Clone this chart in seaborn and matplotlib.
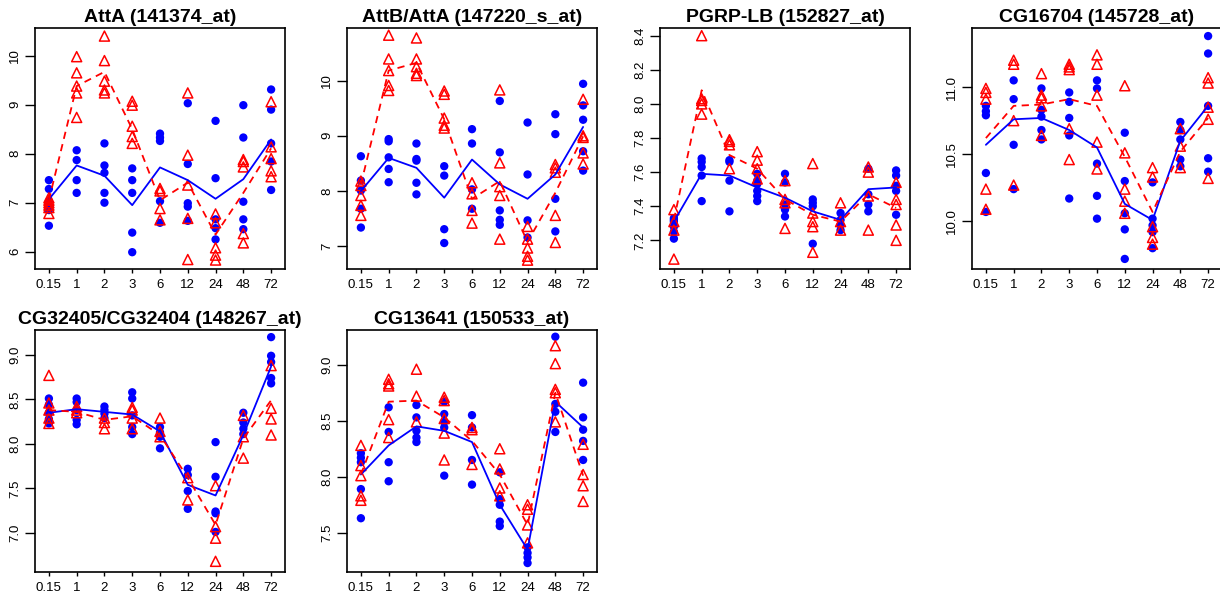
import numpy as np
import pandas as pd
import matplotlib
matplotlib.use("Agg")
import matplotlib.pyplot as plt
import seaborn as sns

# time points (hours) shown on the x axis
times = ["0.15", "1", "2", "3", "6", "12", "24", "48", "72"]

titles = ["AttA (141374_at)", "AttB/AttA (147220_s_at)", "PGRP-LB (152827_at)",
          "CG16704 (145728_at)", "CG32405/CG32404 (148267_at)", "CG13641 (150533_at)"]

# --- AttA (141374_at) ---
atta_blue = [[7.46, 7.28, 7.03, 6.92, 6.85, 6.53], [8.07, 7.87, 7.46, 7.20],
             [8.21, 7.76, 7.61, 7.20, 7.00], [7.70, 7.46, 7.20, 6.39, 5.99],
             [8.41, 8.33, 8.26, 7.03, 6.59], [9.03, 7.79, 6.99, 6.92, 6.63],
             [8.67, 7.50, 6.66, 6.48, 6.25], [8.99, 8.33, 7.02, 6.66, 6.46],
             [9.31, 8.90, 8.21, 7.84, 7.26]]
atta_red = [[7.10, 7.05, 7.00, 6.95, 6.90, 6.78], [9.98, 9.65, 9.38, 9.24, 8.74],
            [10.40, 9.90, 9.48, 9.30, 9.24], [9.07, 8.99, 8.56, 8.35, 8.21],
            [7.29, 7.24, 6.88, 6.65], [9.24, 7.97, 7.36, 6.68, 5.84],
            [6.77, 6.59, 6.08, 5.93, 5.83], [7.88, 7.84, 7.73, 6.37, 6.18],
            [9.06, 8.14, 7.90, 7.65, 7.53]]
atta_blue_mean = [7.07, 7.76, 7.55, 6.95, 7.72, 7.46, 7.08, 7.48, 8.29]
atta_red_mean = [7.05, 9.38, 9.67, 8.50, 7.05, 7.41, 6.35, 7.20, 8.11]

# --- AttB/AttA (147220_s_at) ---
attb_blue = [[8.63, 8.19, 8.01, 7.68, 7.34], [8.94, 8.90, 8.61, 8.40, 8.16],
             [8.86, 8.58, 8.55, 8.15, 7.94], [8.45, 8.28, 7.31, 7.06],
             [9.12, 8.86, 8.03, 7.68], [9.63, 8.70, 7.65, 7.48, 7.39],
             [9.24, 8.30, 7.47, 7.16], [9.39, 9.03, 7.86, 7.27],
             [9.94, 9.55, 9.29, 8.72, 8.37]]
attb_red = [[8.18, 8.10, 7.92, 7.74, 7.56], [10.82, 10.39, 10.18, 9.91, 9.82],
            [10.77, 10.39, 10.25, 10.13, 10.09], [9.81, 9.75, 9.32, 9.19, 9.14],
            [8.15, 7.95, 7.65, 7.42], [9.83, 8.51, 8.08, 7.92, 7.13],
            [7.36, 7.13, 6.97, 6.82, 6.75], [8.48, 8.42, 8.34, 7.56, 7.07],
            [9.66, 9.00, 8.97, 8.69, 8.49]]
attb_blue_mean = [8.00, 8.60, 8.42, 7.88, 8.57, 8.12, 7.86, 8.30, 9.16]
attb_red_mean = [8.12, 10.18, 10.32, 9.30, 7.86, 8.18, 7.08, 7.97, 8.99]

# --- PGRP-LB (152827_at) ---
pgrp_blue = [[7.33, 7.32, 7.31, 7.28, 7.25, 7.21], [7.68, 7.66, 7.63, 7.58, 7.43],
             [7.67, 7.66, 7.55, 7.37], [7.59, 7.55, 7.53, 7.49, 7.46, 7.43],
             [7.59, 7.54, 7.41, 7.38, 7.34], [7.44, 7.42, 7.40, 7.18],
             [7.36, 7.32, 7.29, 7.26], [7.62, 7.47, 7.41, 7.37],
             [7.61, 7.58, 7.52, 7.49, 7.35]]
pgrp_red = [[7.38, 7.31, 7.26, 7.09], [8.40, 8.03, 8.02, 8.00, 7.94],
            [7.79, 7.78, 7.76, 7.62], [7.72, 7.67, 7.62, 7.56],
            [7.55, 7.44, 7.42, 7.27], [7.65, 7.36, 7.31, 7.28, 7.13],
            [7.42, 7.31, 7.26], [7.63, 7.60, 7.46, 7.26],
            [7.54, 7.44, 7.41, 7.29, 7.20]]
pgrp_blue_mean = [7.31, 7.59, 7.58, 7.51, 7.45, 7.37, 7.32, 7.50, 7.51]
pgrp_red_mean = [7.32, 8.08, 7.70, 7.62, 7.44, 7.35, 7.31, 7.47, 7.39]

# --- CG16704 (145728_at) ---
cg167_blue = [[10.86, 10.82, 10.79, 10.36, 10.07], [11.05, 10.91, 10.57, 10.24],
              [10.99, 10.83, 10.78, 10.68, 10.61], [10.96, 10.89, 10.77, 10.64, 10.17],
              [11.05, 10.99, 10.43, 10.19, 10.02], [10.66, 10.30, 10.06, 9.94, 9.72],
              [10.29, 10.02, 9.97, 9.92, 9.80], [10.74, 10.68, 10.61, 10.46, 10.41],
              [11.38, 11.25, 10.86, 10.47, 10.37]]
cg167_red = [[10.99, 10.96, 10.91, 10.24, 10.09], [11.20, 11.17, 10.75, 10.27],
             [11.10, 10.94, 10.92, 10.86, 10.64], [11.17, 11.15, 11.13, 10.69, 10.46],
             [11.24, 11.17, 10.94, 10.59, 10.39], [11.01, 10.51, 10.24, 10.15, 10.06],
             [10.40, 10.33, 9.96, 9.88, 9.83], [10.69, 10.56, 10.40],
             [11.07, 11.03, 10.85, 10.76, 10.32]]
cg167_blue_mean = [10.57, 10.76, 10.77, 10.68, 10.55, 10.13, 10.01, 10.60, 10.86]
cg167_red_mean = [10.62, 10.86, 10.87, 10.91, 10.86, 10.48, 10.07, 10.52, 10.77]

# --- CG32405/CG32404 (148267_at) ---
cg324_blue = [[8.51, 8.44, 8.35, 8.28, 8.23], [8.51, 8.47, 8.38, 8.27, 8.22],
              [8.42, 8.38, 8.34, 8.29], [8.58, 8.51, 8.32, 8.19, 8.11],
              [8.19, 8.13, 8.08, 7.95], [7.72, 7.65, 7.47, 7.27],
              [8.02, 7.63, 7.24, 7.22, 7.01], [8.35, 8.24, 8.17, 8.11],
              [9.20, 8.99, 8.92, 8.74, 8.68]]
cg324_red = [[8.77, 8.46, 8.38, 8.29, 8.23], [8.42, 8.38, 8.35],
             [8.29, 8.24, 8.17], [8.41, 8.38, 8.29, 8.17],
             [8.29, 8.14, 8.08], [7.62, 7.37],
             [7.53, 7.07, 6.94, 6.68], [8.32, 8.08, 7.84],
             [8.88, 8.40, 8.28, 8.10]]
cg324_blue_mean = [8.35, 8.39, 8.36, 8.33, 8.14, 7.54, 7.42, 8.10, 8.87]
cg324_red_mean = [8.38, 8.36, 8.27, 8.31, 8.10, 7.62, 7.09, 8.06, 8.49]

# --- CG13641 (150533_at) ---
cg136_blue = [[8.21, 8.17, 8.13, 7.89, 7.63], [8.62, 8.40, 8.13, 7.96],
              [8.64, 8.53, 8.41, 8.35, 8.31], [8.67, 8.56, 8.49, 8.44, 8.01],
              [8.55, 8.44, 8.15, 7.93], [8.04, 7.80, 7.75, 7.60, 7.56],
              [7.37, 7.32, 7.28, 7.23], [9.25, 8.65, 8.58, 8.40],
              [8.84, 8.53, 8.42, 8.32, 8.15]]
cg136_red = [[8.28, 8.10, 8.01, 7.83, 7.79], [8.87, 8.83, 8.81, 8.51, 8.35],
             [8.96, 8.72, 8.49], [8.71, 8.68, 8.52, 8.39, 8.15],
             [8.44, 8.42, 8.11], [8.25, 8.07, 7.90, 7.83],
             [7.75, 7.71, 7.57, 7.41], [9.17, 9.01, 8.78, 8.75, 8.49],
             [8.29, 8.02, 7.92, 7.78]]
cg136_blue_mean = [8.02, 8.28, 8.45, 8.41, 8.31, 7.75, 7.35, 8.67, 8.44]
cg136_red_mean = [8.02, 8.67, 8.68, 8.53, 8.32, 8.02, 7.57, 8.75, 8.01]

panels = [
    (atta_blue, atta_red, atta_blue_mean, atta_red_mean),
    (attb_blue, attb_red, attb_blue_mean, attb_red_mean),
    (pgrp_blue, pgrp_red, pgrp_blue_mean, pgrp_red_mean),
    (cg167_blue, cg167_red, cg167_blue_mean, cg167_red_mean),
    (cg324_blue, cg324_red, cg324_blue_mean, cg324_red_mean),
    (cg136_blue, cg136_red, cg136_blue_mean, cg136_red_mean),
]

# axis settings per panel (limits, ticks, tick format)
ylims = [(5.647, 10.565), (6.59, 10.95), (7.032, 8.445),
         (9.645, 11.44), (6.56, 9.28), (7.15, 9.31)]
yticks = [[6, 7, 8, 9, 10], [7, 8, 9, 10], [7.2, 7.4, 7.6, 7.8, 8.0, 8.2, 8.4],
          [10.0, 10.5, 11.0], [7.0, 7.5, 8.0, 8.5, 9.0], [7.5, 8.0, 8.5, 9.0]]
yfmt = ["{:.0f}", "{:.0f}", "{:.1f}", "{:.1f}", "{:.1f}", "{:.1f}"]


def long_table(groups):
    rows = []
    for i, vals in enumerate(groups):
        for v in vals:
            rows.append({"x": i, "y": v})
    return pd.DataFrame(rows)


sns.set_style("white")
plt.rcParams["font.family"] = ["Liberation Sans", "DejaVu Sans"]
plt.rcParams["text.color"] = "black"
plt.rcParams["xtick.color"] = "black"
plt.rcParams["ytick.color"] = "black"

fig = plt.figure(figsize=(12.2, 5.94), dpi=100)

lefts = [35, 347, 660, 972, 35, 347]
tops = [28, 28, 28, 28, 330, 330]
bottoms = [269, 269, 269, 269, 572, 572]

for k, (blue, red, bmean, rmean) in enumerate(panels):
    ax = fig.add_axes([lefts[k] / 1220, 1 - bottoms[k] / 594,
                       250 / 1220, (bottoms[k] - tops[k]) / 594])
    dfb = long_table(blue)
    dfr = long_table(red)
    sns.scatterplot(data=dfb, x="x", y="y", ax=ax, color="#0000ff",
                    marker="o", s=36, edgecolor="none", zorder=2)
    sns.scatterplot(data=dfr, x="x", y="y", ax=ax, marker="^", s=52,
                    facecolor="none", edgecolor="#ff0000", linewidth=1.1, zorder=3)
    dm = pd.DataFrame({"x": np.arange(len(times)), "blue": bmean, "red": rmean})
    sns.lineplot(data=dm, x="x", y="blue", ax=ax, color="#0000ff", lw=1.3, zorder=4)
    sns.lineplot(data=dm, x="x", y="red", ax=ax, color="#ff0000", lw=1.3,
                 dashes=False, zorder=4).lines[-1].set_dashes([4, 3])

    ax.set_xlim(-0.5, 8.5)
    ax.set_ylim(*ylims[k])
    ax.set_xticks(range(len(times)))
    ax.set_xticklabels(times, fontsize=9.5, color="black")
    ax.set_yticks(yticks[k])
    ax.set_yticklabels([yfmt[k].format(t) for t in yticks[k]], fontsize=9.5,
                       rotation=90, va="center", color="black")
    ax.tick_params(axis="y", direction="out", length=7, width=1, left=True, pad=3,
                   colors="black")
    ax.tick_params(axis="x", direction="out", length=3, width=1, bottom=True, pad=4,
                   colors="black")
    ax.set_xlabel("")
    ax.set_ylabel("")
    for sp in ax.spines.values():
        sp.set_visible(True)
        sp.set_color("black")
        sp.set_linewidth(1.2)
    ax.set_title(titles[k], fontsize=14, fontweight="bold", pad=4, color="black")

fig.savefig("out.png", dpi=100)
